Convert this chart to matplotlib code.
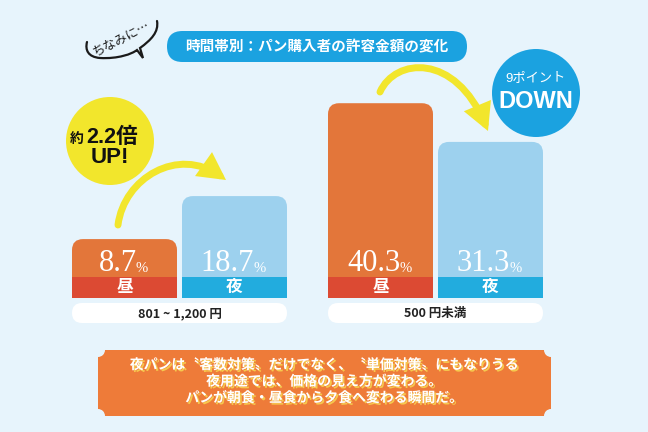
import matplotlib
matplotlib.use("Agg")
import matplotlib.pyplot as plt
from matplotlib.patches import FancyBboxPatch, Rectangle, Circle, FancyArrowPatch, PathPatch
from matplotlib.path import Path
import matplotlib.patheffects as pe

plt.rcParams['font.family'] = ['Noto Sans CJK JP', 'DejaVu Sans']

# ---- data ----
groups = ["801 ~ 1,200 円", "500 円未満"]
periods = ["昼", "夜"]
share_day = [8.7, 40.3]
share_night = [18.7, 31.3]
badge_top = ["2.2倍", "9ポイント"]
badge_bottom = ["UP!", "DOWN"]
title = "時間帯別：パン購入者の許容金額の変化"
aside = "ちなみに…"
note_lines = ["夜パンは〝客数対策〟だけでなく、〝単価対策〟にもなりうる",
              "夜用途では、価格の見え方が変わる。",
              "パンが朝食・昼食から夕食へ変わる瞬間だ。"]

# ---- colours ----
BG = "#E7F4FC"
ORANGE = "#E3763A"
RED = "#DC4A33"
LBLUE = "#9DD1EE"
BAND_BLUE = "#22ACDE"
YELLOW = "#F2E62C"
BLUE = "#1BA2E0"
NOTE = "#EE7B39"

W, H = 648, 432
fig = plt.figure(figsize=(6.48, 4.32), dpi=100, facecolor=BG)

# pixel axes for decoration
ax = fig.add_axes([0, 0, 1, 1])
ax.set_xlim(0, W)
ax.set_ylim(H, 0)
ax.axis("off")

# bar axes : y in percent
ZERO_PX = 276.5
PX_PER = 4.3
axb = fig.add_axes([0, 0, 1, 1], zorder=2)
axb.set_xlim(0, W)
axb.set_ylim((ZERO_PX - H) / PX_PER, ZERO_PX / PX_PER)
axb.axis("off")
axb.patch.set_alpha(0)
band_bot = -(298 - ZERO_PX) / PX_PER

group_x0 = [72, 328]
bar_w = 105
gap = 5

for i, g in enumerate(groups):
    vals = [share_day[i], share_night[i]]
    cols = [ORANGE, LBLUE]
    bands = [RED, BAND_BLUE]
    for j in range(2):
        x0 = group_x0[i] + j * (bar_w + gap)
        box = FancyBboxPatch((x0, band_bot), bar_w, vals[j] - band_bot,
                             boxstyle="round,pad=0,rounding_size=11",
                             mutation_aspect=1 / PX_PER, fc=cols[j], ec="none")
        axb.add_patch(box)
        axb.add_patch(Rectangle((x0, band_bot), bar_w, -band_bot, fc=bands[j], ec="none"))
        axb.text(x0 + bar_w / 2, band_bot / 2, periods[j], color="white",
                 fontsize=12, fontweight="bold", ha="center", va="center")
        t = axb.text(x0 + bar_w / 2 - 7, 1.2, f"{vals[j]}", color="white",
                     fontsize=22, family="Liberation Serif", ha="center", va="baseline")
        axb.annotate("%", xy=(1, 0), xycoords=t, xytext=(-0.5, 2.5), textcoords="offset points",
                     color="white", fontsize=10.5, family="Liberation Serif",
                     ha="left", va="bottom")

    # group label pill
    pill = FancyBboxPatch((group_x0[i], 303), 2 * bar_w + gap, 20,
                          boxstyle="round,pad=0,rounding_size=10", fc="white", ec="none")
    ax.add_patch(pill)
    ax.text(group_x0[i] + bar_w + gap / 2, 313.5, g, fontsize=9, fontweight="bold",
            color="#222222", ha="center", va="center")

# title pill
ax.add_patch(FancyBboxPatch((167, 31), 300, 31, boxstyle="round,pad=0,rounding_size=15.5",
                            fc=BLUE, ec="none"))
ax.text(317, 46.5, title, color="white", fontsize=10.5, fontweight="bold",
        ha="center", va="center")

# speech bubble
verts = [(87, 42), (85, 50), (88, 57), (100, 58), (118, 59), (132, 54), (137, 50),
         (143, 58), (140, 48), (151, 40), (159, 32), (157, 21)]
codes = [Path.MOVETO, Path.CURVE4, Path.CURVE4, Path.CURVE4, Path.CURVE4, Path.CURVE4,
         Path.CURVE4, Path.LINETO, Path.LINETO, Path.CURVE4, Path.CURVE4, Path.CURVE4]
ax.add_patch(PathPatch(Path(verts, codes), fc="none", ec="#1a1a1a", lw=1.6, capstyle="round"))
ax.text(121, 39, aside, rotation=27, fontsize=9, color="#1a1a1a",
        ha="center", va="center", rotation_mode="anchor")

# badges
sans = ["Liberation Sans", "Noto Sans CJK JP"]
ax.add_patch(Circle((110, 141), 44, fc=YELLOW, ec="none"))
ax.text(84, 143, "約", fontsize=10, fontweight="bold", color="#111111",
        ha="right", va="baseline")
ax.text(86, 143, badge_top[0], fontsize=15.5, fontweight="bold", color="#111111",
        family=sans, ha="left", va="baseline")
ax.text(110, 163, badge_bottom[0], fontsize=16, fontweight="bold", color="#111111",
        family=sans, ha="center", va="baseline")

ax.add_patch(Circle((536, 93), 44, fc=BLUE, ec="none"))
ax.text(536, 78, badge_top[1], fontsize=9.5, color="white",
        family=sans, ha="center", va="center")
ax.text(536, 101, badge_bottom[1], fontsize=17, fontweight="bold", color="white",
        family=sans, ha="center", va="center")

# arrows (cubic curves)
curves = [[(118, 225), (124, 178), (178, 146), (226, 180)],
          [(380, 92), (395, 58), (455, 52), (488, 131)]]
for pts in curves:
    p = Path(pts, [Path.MOVETO, Path.CURVE4, Path.CURVE4, Path.CURVE4])
    arr = FancyArrowPatch(path=p, arrowstyle="-|>,head_length=0.6,head_width=0.32",
                          mutation_scale=20, lw=5, color=YELLOW,
                          capstyle="round", joinstyle="miter")
    ax.add_patch(arr)

# bottom note box
ax.add_patch(Rectangle((98, 350), 453, 66, fc=NOTE, ec="none"))
for cx, cy in [(98, 350), (551, 350), (98, 416), (551, 416)]:
    ax.add_patch(Circle((cx, cy), 7, fc=BG, ec="none"))
shadow = [pe.SimplePatchShadow(offset=(1.3, -1.3), shadow_rgbFace="#F6C84E", alpha=1),
          pe.Normal()]
for k, line in enumerate(note_lines):
    ax.text(324, 365 + k * 16.5, line, color="white", fontsize=10, fontweight="bold",
            ha="center", va="center", path_effects=shadow)

fig.savefig("out.png", dpi=100, facecolor=BG)
